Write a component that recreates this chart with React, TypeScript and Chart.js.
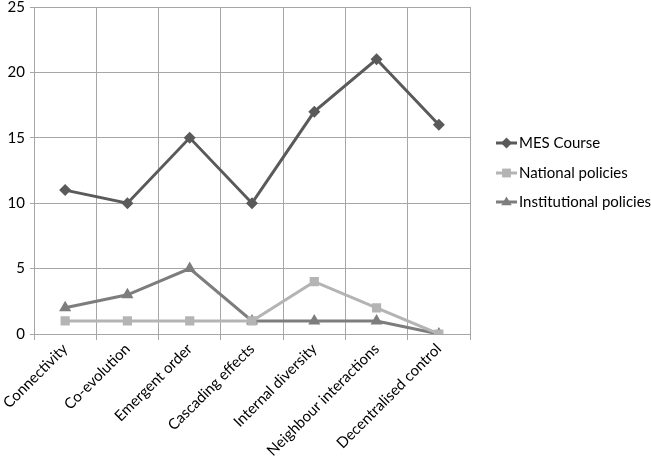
import React, { useEffect, useRef } from "react";
import { Chart, registerables } from "chart.js";

Chart.register(...registerables);

const categories = [
  "Connectivity",
  "Co-evolution",
  "Emergent order",
  "Cascading effects",
  "Internal diversity",
  "Neighbour interactions",
  "Decentralised control",
];
const mesCourse = [11, 10, 15, 10, 17, 21, 16];
const nationalPolicies = [1, 1, 1, 1, 4, 2, 0];
const institutionalPolicies = [2, 3, 5, 1, 1, 1, 0];

const FONT = "Lato, 'Open Sans', sans-serif";
const FONT_SIZE = 15;

const seriesStyle = [
  { label: "MES Course", data: mesCourse, color: "#5a5a5a", point: "rectRot", radius: 6 },
  { label: "National policies", data: nationalPolicies, color: "#b4b4b4", point: "rect", radius: 6.5 },
  { label: "Institutional policies", data: institutionalPolicies, color: "#7d7d7d", point: "triangle", radius: 7 },
];

function marker(ctx: CanvasRenderingContext2D, style: string, x: number, y: number, r: number) {
  ctx.beginPath();
  if (style === "rectRot") {
    ctx.moveTo(x, y - r);
    ctx.lineTo(x + r, y);
    ctx.lineTo(x, y + r);
    ctx.lineTo(x - r, y);
  } else if (style === "rect") {
    const h = r * 0.8;
    ctx.rect(x - h, y - h, 2 * h, 2 * h);
  } else {
    ctx.moveTo(x, y - r);
    ctx.lineTo(x + r * 0.95, y + r * 0.6);
    ctx.lineTo(x - r * 0.95, y + r * 0.6);
  }
  ctx.closePath();
  ctx.fill();
}

// Legend drawn at the right with a short line segment through each marker
const sideLegend = {
  id: "sideLegend",
  afterDraw(chart: any) {
    const ctx = chart.ctx as CanvasRenderingContext2D;
    const x0 = 496;
    const ys = [143, 173, 202];
    ctx.save();
    seriesStyle.forEach((s, i) => {
      const y = ys[i];
      ctx.strokeStyle = s.color;
      ctx.lineWidth = 3;
      ctx.beginPath();
      ctx.moveTo(x0, y);
      ctx.lineTo(x0 + 21, y);
      ctx.stroke();
      ctx.fillStyle = s.color;
      marker(ctx, s.point, x0 + 10.5, y, 5.5);
      ctx.fillStyle = "#000";
      ctx.font = `${FONT_SIZE}px ${FONT}`;
      ctx.textBaseline = "middle";
      ctx.textAlign = "left";
      ctx.fillText(s.label, x0 + 23, y);
    });
    ctx.restore();
  },
};

export default function App() {
  const ref = useRef<HTMLCanvasElement>(null);

  useEffect(() => {
    document.body.style.margin = "0";
    const chart = new Chart(ref.current!, {
      type: "line",
      data: {
        labels: categories,
        datasets: seriesStyle.map((s) => ({
          label: s.label,
          data: s.data,
          borderColor: s.color,
          backgroundColor: s.color,
          borderWidth: 3,
          pointStyle: s.point as any,
          pointRadius: s.radius,
          pointBorderWidth: 0,
          pointBackgroundColor: s.color,
          tension: 0,
          fill: false,
        })),
      },
      options: {
        animation: false,
        responsive: false,
        maintainAspectRatio: false,
        layout: { padding: { top: 7, right: 181, left: 0, bottom: 0 } },
        plugins: {
          legend: { display: false },
          tooltip: { enabled: false },
        },
        scales: {
          x: {
            offset: true,
            grid: { color: "#a6a6a6", lineWidth: 1, offset: true, tickLength: 6, drawTicks: true },
            border: { color: "#a6a6a6" },
            ticks: {
              minRotation: 45,
              maxRotation: 45,
              color: "#000",
              font: { family: FONT, size: FONT_SIZE },
              padding: 0,
            },
            afterFit: (scale: any) => {
              scale.height = 126;
            },
          },
          y: {
            min: 0,
            max: 25,
            ticks: { stepSize: 5, color: "#000", font: { family: FONT, size: FONT_SIZE }, padding: 5 },
            grid: { color: "#a6a6a6", lineWidth: 1, tickLength: 4 },
            border: { color: "#a6a6a6" },
            afterFit: (scale: any) => {
              scale.width = 34;
              scale.paddingTop = 0;
              scale.paddingBottom = 0;
            },
          },
        },
      },
      plugins: [sideLegend],
    });
    return () => chart.destroy();
  }, []);

  return (
    <div style={{ width: 651, height: 460, background: "#fff" }}>
      <canvas ref={ref} width={651} height={460} style={{ display: "block" }} />
    </div>
  );
}
